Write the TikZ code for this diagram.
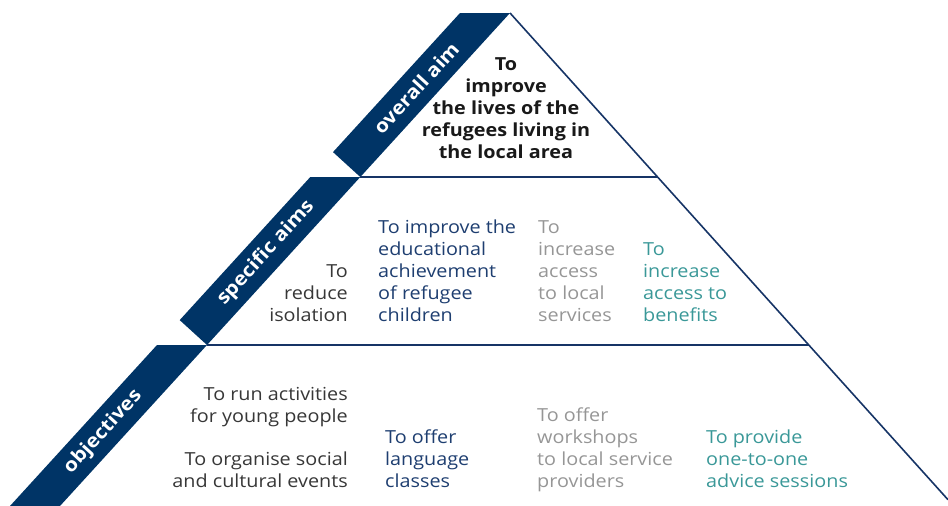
\documentclass[tikz,border=0pt]{standalone}
\usepackage{fontspec}
\setmainfont{Open Sans}[FakeStretch=1.1]
\usepackage{tikz}
\usetikzlibrary{positioning, calc}
\definecolor{bandblue}{RGB}{0,52,102}
\definecolor{linenavy}{RGB}{22,52,102}
\definecolor{textnavy}{RGB}{30,62,112}
\definecolor{textgrey}{RGB}{150,150,150}
\definecolor{textteal}{RGB}{58,152,152}
\definecolor{textdark}{RGB}{55,55,55}

\begin{document}
\begin{tikzpicture}[x=1pt, y=-1pt,
	band/.style={fill=bandblue, draw=none},
	bandtext/.style={text=white, font=\fontsize{19}{22}\selectfont\bfseries, rotate=47.6, inner sep=0pt},
	level/.style={draw=linenavy, line width=1.6pt},
	goal/.style={font=\fontsize{18}{22}\selectfont, inner sep=0pt, align=left, anchor=base west}]
\useasboundingbox (0,0) rectangle (948,506);

% the three pieces of the slanted band
\fill[band] (460,13) -- (510,13) -- (360.3,177) -- (333,152.1) -- cycle;
\fill[band] (310.3,177) -- (360.3,177) -- (207,345) -- (179.7,320.1) -- cycle;
\fill[band] (157,345) -- (207,345) -- (60,506) -- (10,506) -- cycle;

\draw[level] (510,13) -- (948,499.7);
\draw[level] (360.3,177) -- (657.6,177);
\draw[level] (207,345) -- (808.8,345);

\node[bandtext] (aimlbl) at (416,88) {overall aim};
\node[bandtext] (speclbl) at (266,253) {specific aims};
\node[bandtext] (objlbl) at (103,432) {objectives};

% top (base = last line)
\node[goal, font=\fontsize{18}{22}\selectfont\bfseries, text=black!90, align=center, anchor=base] (aim) at (506,158)
	{To\\improve\\the lives of the\\refugees living in\\the local area};

% middle row
\node[goal, text=textdark, align=right, anchor=base east] (isol) at (348,321) {To\\reduce\\isolation};
\node[goal, text=textnavy] (educ) at (378,321) {To improve the\\educational\\achievement\\of refugee\\children};
\node[goal, text=textgrey] (serv) at (538,321) {To\\increase\\access\\to local\\services};
\node[goal, text=textteal] (bene) at (643,321) {To\\increase\\access to\\benefits};

% bottom row
\node[goal, text=textdark, align=right, anchor=base east] (young) at (348,422) {To run activities\\for young people};
\node[goal, text=textdark, align=right, anchor=base east] (events) at (348,487) {To organise social\\and cultural events};
\node[goal, text=textnavy] (lang) at (385,487) {To offer\\language\\classes};
\node[goal, text=textgrey] (shops) at (537,487) {To offer\\workshops\\to local service\\providers};
\node[goal, text=textteal] (advice) at (706,487) {To provide\\one-to-one\\advice sessions};
\end{tikzpicture}
\end{document}
